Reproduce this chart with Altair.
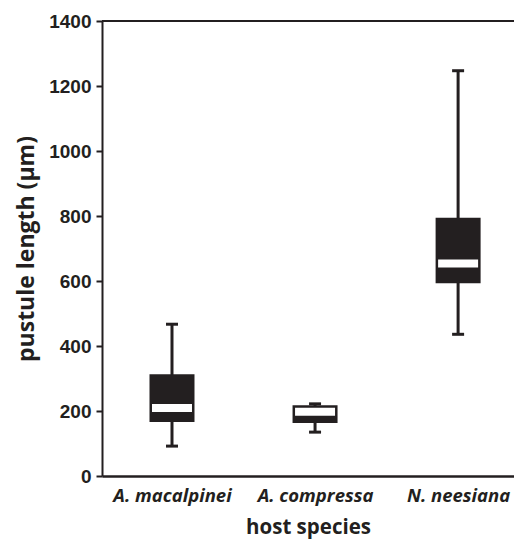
import altair as alt
import pandas as pd

categories = ["A. macalpinei", "A. compressa", "N. neesiana"]
whisker_low = [92, 135, 436]
q1 = [166, 163, 593]
median = [209, 198, 654]
q3 = [313, 218, 795]
whisker_high = [467, 222, 1247]

df = pd.DataFrame({
    "species": categories,
    "lo": whisker_low,
    "q1": q1,
    "med": median,
    "q3": q3,
    "hi": whisker_high,
})

INK = "#231f20"

x = alt.X(
    "species:N",
    sort=categories,
    scale=alt.Scale(type="point", padding=0.44, align=0.556),
    axis=alt.Axis(
        title="host species",
        labelAngle=0,
        ticks=False,
        domainColor=INK,
        domainWidth=2.5,
        labelFont="Open Sans",
        labelFontStyle="italic",
        labelFontWeight="bold",
        labelFontSize=18.5,
        labelColor=INK,
        labelPadding=10,
        titleFont="Open Sans",
        titleFontWeight="bold",
        titleFontSize=20.5,
        titleColor=INK,
        titlePadding=13,
    ),
)

yscale = alt.Scale(domain=[0, 1400], nice=False)
yaxis = alt.Axis(
    title="pustule length (µm)",
    values=[0, 200, 400, 600, 800, 1000, 1200, 1400],
    format="d",
    grid=False,
    domainColor=INK,
    domainWidth=2,
    tickColor=INK,
    tickWidth=2,
    tickSize=6,
    labelFont="Liberation Sans",
    labelFontWeight="bold",
    labelFontSize=19,
    labelColor=INK,
    labelPadding=5,
    titleFont="Open Sans",
    titleFontWeight="bold",
    titleFontSize=23,
    titleColor=INK,
    titlePadding=10,
)

base = alt.Chart(df)

whisker = base.mark_rule(color=INK, strokeWidth=3).encode(
    x=x,
    y=alt.Y("lo:Q", scale=yscale, axis=yaxis),
    y2="hi:Q",
)
cap_lo = base.mark_tick(color=INK, opacity=1, size=12, thickness=3, orient="horizontal").encode(
    x=x, y=alt.Y("lo:Q", scale=yscale)
)
cap_hi = base.mark_tick(color=INK, opacity=1, size=12, thickness=3, orient="horizontal").encode(
    x=x, y=alt.Y("hi:Q", scale=yscale)
)
box = base.mark_bar(color=INK, opacity=1, size=45).encode(
    x=x, y=alt.Y("q1:Q", scale=yscale), y2="q3:Q"
)
med = base.mark_tick(color="white", opacity=1, size=40, thickness=8, orient="horizontal").encode(
    x=x, y=alt.Y("med:Q", scale=yscale)
)
top = alt.Chart(pd.DataFrame({"v": [1400]})).mark_rule(color=INK, strokeWidth=2).encode(
    y=alt.Y("v:Q", scale=yscale)
)

chart = (
    alt.layer(whisker, cap_lo, cap_hi, box, med, top)
    .properties(
        width=412,
        height=455,
        autosize=alt.AutoSizeParams(type="none"),
        padding={"left": 94, "top": 13, "right": 0, "bottom": 63},
    )
    .configure_view(stroke=None)
    .configure(background="white")
)

chart.save("out.html", embed_options={"renderer": "svg", "actions": False})
